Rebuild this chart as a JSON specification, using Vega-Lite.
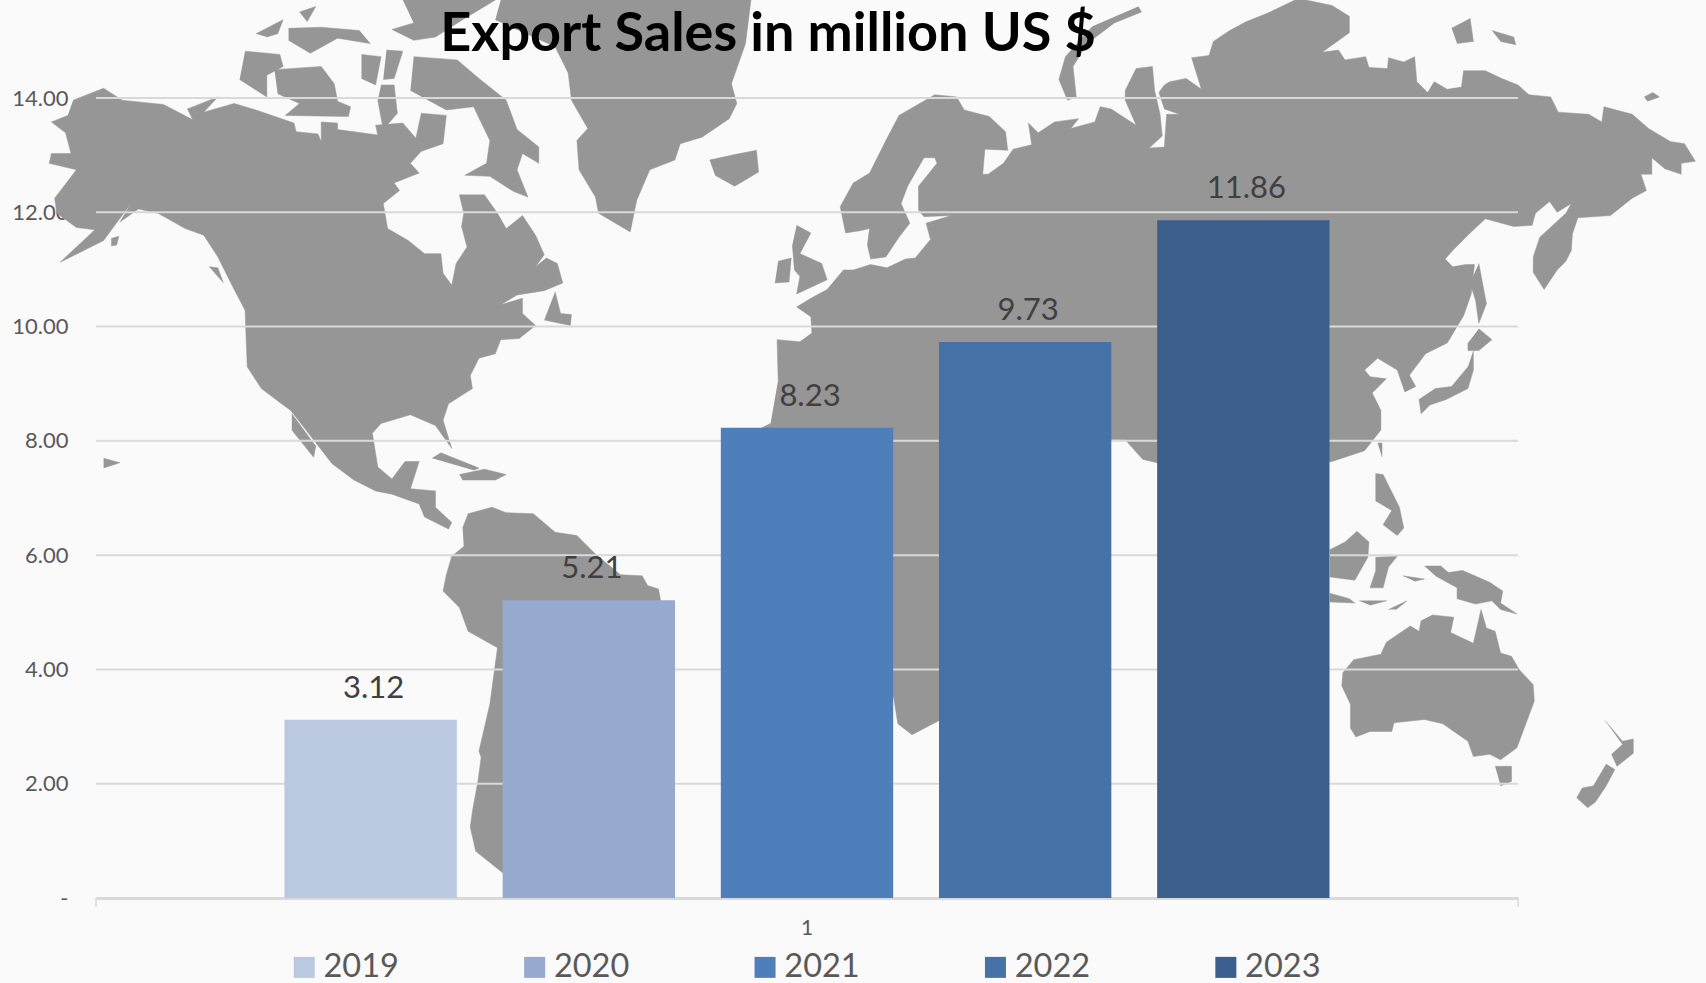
{"$schema":"https://vega.github.io/schema/vega-lite/v6.json","width":1422,"height":800,"autosize":{"type":"none"},"padding":{"left":96,"top":98,"right":188,"bottom":85},"background":"#fafafa","title":{"text":"Export Sales in million US $","anchor":"middle","dx":-39,"offset":-63,"fontSize":54,"font":"Lato","fontWeight":"bold","color":"#000000"},"config":{"view":{"stroke":null},"font":"Lato"},
"datasets":{"sales":[{"group":"1","year":"2019","sales":3.12},{"group":"1","year":"2020","sales":5.21},{"group":"1","year":"2021","sales":8.23},{"group":"1","year":"2022","sales":9.73},{"group":"1","year":"2023","sales":11.86}],
"grid":[{"v":2},{"v":4},{"v":6},{"v":8},{"v":10},{"v":12},{"v":14}],
"ends":[{"east":88,"south":825,"south2":833},{"east":1395,"south":825,"south2":833}],
"map":[
{"p":"na","east":67,"south":92},{"p":"na","east":95,"south":81},{"p":"na","east":112,"south":92},{"p":"na","east":150,"south":96},{"p":"na","east":177,"south":110},{"p":"na","east":172,"south":100},{"p":"na","east":200,"south":89},{"p":"na","east":187,"south":103},{"p":"na","east":215,"south":95},{"p":"na","east":235,"south":101},{"p":"na","east":270,"south":113},{"p":"na","east":272,"south":121},{"p":"na","east":292,"south":123},{"p":"na","east":295,"south":130},{"p":"na","east":295,"south":112},{"p":"na","east":310,"south":113},{"p":"na","east":310,"south":119},{"p":"na","east":347,"south":124},{"p":"na","east":345,"south":115},{"p":"na","east":370,"south":113},{"p":"na","east":382,"south":127},{"p":"na","east":387,"south":104},{"p":"na","east":410,"south":106},{"p":"na","east":407,"south":132},{"p":"na","east":387,"south":139},{"p":"na","east":377,"south":150},{"p":"na","east":385,"south":159},{"p":"na","east":362,"south":168},{"p":"na","east":367,"south":175},{"p":"na","east":352,"south":187},{"p":"na","east":356,"south":210},{"p":"na","east":375,"south":221},{"p":"na","east":390,"south":233},{"p":"na","east":405,"south":233},{"p":"na","east":407,"south":251},{"p":"na","east":415,"south":262},{"p":"na","east":419,"south":242},{"p":"na","east":429,"south":227},{"p":"na","east":424,"south":208},{"p":"na","east":426,"south":196},{"p":"na","east":422,"south":179},{"p":"na","east":445,"south":179},{"p":"na","east":457,"south":196},{"p":"na","east":465,"south":210},{"p":"na","east":480,"south":198},{"p":"na","east":492,"south":216},{"p":"na","east":500,"south":234},{"p":"na","east":492,"south":245},{"p":"na","east":502,"south":237},{"p":"na","east":512,"south":242},{"p":"na","east":517,"south":260},{"p":"na","east":500,"south":267},{"p":"na","east":475,"south":271},{"p":"na","east":460,"south":280},{"p":"na","east":480,"south":274},{"p":"na","east":480,"south":288},{"p":"na","east":492,"south":299},{"p":"na","east":477,"south":311},{"p":"na","east":460,"south":312},{"p":"na","east":455,"south":325},{"p":"na","east":440,"south":329},{"p":"na","east":432,"south":345},{"p":"na","east":434,"south":357},{"p":"na","east":412,"south":371},{"p":"na","east":407,"south":386},{"p":"na","east":415,"south":412},{"p":"na","east":400,"south":391},{"p":"na","east":377,"south":381},{"p":"na","east":350,"south":389},{"p":"na","east":342,"south":398},{"p":"na","east":347,"south":429},{"p":"na","east":360,"south":440},{"p":"na","east":372,"south":424},{"p":"na","east":385,"south":424},{"p":"na","east":377,"south":449},{"p":"na","east":400,"south":451},{"p":"na","east":400,"south":466},{"p":"na","east":415,"south":480},{"p":"na","east":412,"south":486},{"p":"na","east":390,"south":475},{"p":"na","east":385,"south":463},{"p":"na","east":360,"south":454},{"p":"na","east":345,"south":451},{"p":"na","east":325,"south":441},{"p":"na","east":305,"south":426},{"p":"na","east":267,"south":377},{"p":"na","east":260,"south":372},{"p":"na","east":240,"south":357},{"p":"na","east":227,"south":337},{"p":"na","east":225,"south":285},{"p":"na","east":215,"south":266},{"p":"na","east":200,"south":236},{"p":"na","east":187,"south":216},{"p":"na","east":170,"south":210},{"p":"na","east":145,"south":196},{"p":"na","east":127,"south":192},{"p":"na","east":110,"south":204},{"p":"na","east":120,"south":187},{"p":"na","east":95,"south":221},{"p":"na","east":55,"south":241},{"p":"na","east":87,"south":211},{"p":"na","east":70,"south":209},{"p":"na","east":52,"south":196},{"p":"na","east":50,"south":182},{"p":"na","east":70,"south":156},{"p":"na","east":45,"south":150},{"p":"na","east":47,"south":141},{"p":"na","east":65,"south":141},{"p":"na","east":60,"south":122},{"p":"na","east":47,"south":112},{"p":"na","east":62,"south":106},
{"p":"baffin","east":380,"south":52},{"p":"baffin","east":420,"south":55},{"p":"baffin","east":440,"south":72},{"p":"baffin","east":465,"south":92},{"p":"baffin","east":475,"south":119},{"p":"baffin","east":495,"south":135},{"p":"baffin","east":495,"south":150},{"p":"baffin","east":480,"south":141},{"p":"baffin","east":475,"south":156},{"p":"baffin","east":485,"south":181},{"p":"baffin","east":472,"south":176},{"p":"baffin","east":450,"south":162},{"p":"baffin","east":427,"south":161},{"p":"baffin","east":447,"south":150},{"p":"baffin","east":450,"south":129},{"p":"baffin","east":435,"south":98},{"p":"baffin","east":410,"south":101},{"p":"baffin","east":377,"south":83},
{"p":"victoria","east":252,"south":64},{"p":"victoria","east":295,"south":61},{"p":"victoria","east":307,"south":77},{"p":"victoria","east":310,"south":93},{"p":"victoria","east":322,"south":98},{"p":"victoria","east":320,"south":107},{"p":"victoria","east":262,"south":106},{"p":"victoria","east":275,"south":95},{"p":"victoria","east":255,"south":86},
{"p":"banks","east":225,"south":47},{"p":"banks","east":257,"south":50},{"p":"banks","east":260,"south":61},{"p":"banks","east":245,"south":69},{"p":"banks","east":245,"south":89},{"p":"banks","east":220,"south":73},
{"p":"i1","east":332,"south":50},{"p":"i1","east":350,"south":52},{"p":"i1","east":345,"south":78},{"p":"i1","east":332,"south":72},
{"p":"i2","east":355,"south":46},{"p":"i2","east":370,"south":47},{"p":"i2","east":362,"south":72},{"p":"i2","east":352,"south":73},
{"p":"i3","east":350,"south":78},{"p":"i3","east":362,"south":78},{"p":"i3","east":365,"south":104},{"p":"i3","east":352,"south":119},{"p":"i3","east":347,"south":92},
{"p":"i4","east":370,"south":0},{"p":"i4","east":455,"south":0},{"p":"i4","east":425,"south":18},{"p":"i4","east":400,"south":34},{"p":"i4","east":380,"south":37},{"p":"i4","east":360,"south":27},{"p":"i4","east":380,"south":21},
{"p":"i5","east":265,"south":26},{"p":"i5","east":295,"south":25},{"p":"i5","east":330,"south":28},{"p":"i5","east":340,"south":40},{"p":"i5","east":310,"south":35},{"p":"i5","east":285,"south":49},{"p":"i5","east":265,"south":37},
{"p":"i6","east":235,"south":31},{"p":"i6","east":260,"south":18},{"p":"i6","east":255,"south":31},{"p":"i6","east":245,"south":34},
{"p":"i7","east":275,"south":11},{"p":"i7","east":290,"south":6},{"p":"i7","east":282,"south":20},
{"p":"newf","east":510,"south":268},{"p":"newf","east":515,"south":288},{"p":"newf","east":525,"south":289},{"p":"newf","east":524,"south":299},{"p":"newf","east":500,"south":294},
{"p":"vanc","east":192,"south":245},{"p":"vanc","east":200,"south":246},{"p":"vanc","east":205,"south":260},
{"p":"baja","east":268,"south":380},{"p":"baja","east":290,"south":410},{"p":"baja","east":288,"south":420},{"p":"baja","east":268,"south":395},
{"p":"cuba","east":397,"south":421},{"p":"cuba","east":405,"south":416},{"p":"cuba","east":440,"south":430},{"p":"cuba","east":435,"south":432},
{"p":"hisp","east":422,"south":436},{"p":"hisp","east":445,"south":431},{"p":"hisp","east":465,"south":436},{"p":"hisp","east":455,"south":441},{"p":"hisp","east":425,"south":441},
{"p":"hawaii","east":95,"south":421},{"p":"hawaii","east":110,"south":425},{"p":"hawaii","east":95,"south":430},
{"p":"kodiak","east":102,"south":219},{"p":"kodiak","east":109,"south":217},{"p":"kodiak","east":107,"south":225},{"p":"kodiak","east":102,"south":226},
{"p":"green","east":460,"south":0},{"p":"green","east":690,"south":0},{"p":"green","east":685,"south":40},{"p":"green","east":672,"south":77},{"p":"green","east":677,"south":95},{"p":"green","east":670,"south":109},{"p":"green","east":645,"south":126},{"p":"green","east":625,"south":132},{"p":"green","east":620,"south":147},{"p":"green","east":597,"south":156},{"p":"green","east":585,"south":184},{"p":"green","east":579,"south":213},{"p":"green","east":550,"south":196},{"p":"green","east":547,"south":181},{"p":"green","east":532,"south":156},{"p":"green","east":530,"south":129},{"p":"green","east":540,"south":118},{"p":"green","east":525,"south":92},{"p":"green","east":522,"south":67},{"p":"green","east":510,"south":43},{"p":"green","east":455,"south":18},
{"p":"iceland","east":652,"south":147},{"p":"iceland","east":675,"south":142},{"p":"iceland","east":695,"south":138},{"p":"iceland","east":697,"south":158},{"p":"iceland","east":675,"south":171},{"p":"iceland","east":657,"south":161},
{"p":"eur","east":715,"south":349},{"p":"eur","east":714,"south":312},{"p":"eur","east":735,"south":314},{"p":"eur","east":746,"south":306},{"p":"eur","east":745,"south":291},{"p":"eur","east":732,"south":282},{"p":"eur","east":745,"south":274},{"p":"eur","east":760,"south":266},{"p":"eur","east":775,"south":248},{"p":"eur","east":784,"south":248},{"p":"eur","east":800,"south":243},{"p":"eur","east":815,"south":246},{"p":"eur","east":832,"south":238},{"p":"eur","east":841,"south":237},{"p":"eur","east":855,"south":220},{"p":"eur","east":851,"south":205},{"p":"eur","east":874,"south":198},{"p":"eur","east":849,"south":199},{"p":"eur","east":844,"south":193},{"p":"eur","east":844,"south":171},{"p":"eur","east":861,"south":150},{"p":"eur","east":859,"south":145},{"p":"eur","east":849,"south":145},{"p":"eur","east":834,"south":171},{"p":"eur","east":828,"south":187},{"p":"eur","east":836,"south":205},{"p":"eur","east":826,"south":218},{"p":"eur","east":814,"south":236},{"p":"eur","east":800,"south":238},{"p":"eur","east":797,"south":225},{"p":"eur","east":799,"south":210},{"p":"eur","east":790,"south":212},{"p":"eur","east":777,"south":214},{"p":"eur","east":772,"south":190},{"p":"eur","east":784,"south":168},{"p":"eur","east":799,"south":159},{"p":"eur","east":814,"south":129},{"p":"eur","east":826,"south":106},{"p":"eur","east":859,"south":87},{"p":"eur","east":879,"south":89},{"p":"eur","east":886,"south":101},{"p":"eur","east":909,"south":107},{"p":"eur","east":924,"south":121},{"p":"eur","east":926,"south":138},{"p":"eur","east":905,"south":137},{"p":"eur","east":903,"south":160},{"p":"eur","east":908,"south":160},{"p":"eur","east":922,"south":150},{"p":"eur","east":931,"south":137},{"p":"eur","east":948,"south":133},{"p":"eur","east":945,"south":113},{"p":"eur","east":954,"south":122},{"p":"eur","east":969,"south":112},{"p":"eur","east":991,"south":109},{"p":"eur","east":984,"south":118},{"p":"eur","east":1006,"south":112},{"p":"eur","east":1011,"south":98},{"p":"eur","east":1021,"south":100},{"p":"eur","east":1044,"south":115},{"p":"eur","east":1034,"south":92},{"p":"eur","east":1034,"south":83},{"p":"eur","east":1044,"south":63},{"p":"eur","east":1059,"south":61},{"p":"eur","east":1061,"south":83},{"p":"eur","east":1066,"south":105},{"p":"eur","east":1068,"south":125},{"p":"eur","east":1056,"south":136},{"p":"eur","east":1070,"south":135},{"p":"eur","east":1072,"south":105},{"p":"eur","east":1084,"south":105},{"p":"eur","east":1070,"south":100},{"p":"eur","east":1065,"south":85},{"p":"eur","east":1070,"south":78},{"p":"eur","east":1075,"south":75},{"p":"eur","east":1090,"south":72},{"p":"eur","east":1104,"south":82},{"p":"eur","east":1095,"south":53},{"p":"eur","east":1111,"south":51},{"p":"eur","east":1115,"south":38},{"p":"eur","east":1130,"south":28},{"p":"eur","east":1145,"south":20},{"p":"eur","east":1165,"south":12},{"p":"eur","east":1190,"south":0},{"p":"eur","east":1200,"south":0},{"p":"eur","east":1224,"south":5},{"p":"eur","east":1240,"south":15},{"p":"eur","east":1240,"south":30},{"p":"eur","east":1215,"south":48},{"p":"eur","east":1230,"south":46},{"p":"eur","east":1236,"south":55},{"p":"eur","east":1255,"south":52},{"p":"eur","east":1258,"south":62},{"p":"eur","east":1275,"south":63},{"p":"eur","east":1276,"south":53},{"p":"eur","east":1290,"south":57},{"p":"eur","east":1300,"south":52},{"p":"eur","east":1302,"south":75},{"p":"eur","east":1312,"south":85},{"p":"eur","east":1318,"south":75},{"p":"eur","east":1330,"south":82},{"p":"eur","east":1343,"south":80},{"p":"eur","east":1345,"south":65},{"p":"eur","east":1365,"south":65},{"p":"eur","east":1380,"south":72},{"p":"eur","east":1395,"south":78},{"p":"eur","east":1405,"south":87},{"p":"eur","east":1425,"south":89},{"p":"eur","east":1432,"south":103},{"p":"eur","east":1460,"south":105},{"p":"eur","east":1472,"south":112},{"p":"eur","east":1474,"south":98},{"p":"eur","east":1500,"south":105},{"p":"eur","east":1515,"south":118},{"p":"eur","east":1535,"south":130},{"p":"eur","east":1548,"south":132},{"p":"eur","east":1558,"south":148},{"p":"eur","east":1545,"south":150},{"p":"eur","east":1545,"south":160},{"p":"eur","east":1530,"south":155},{"p":"eur","east":1518,"south":145},{"p":"eur","east":1518,"south":160},{"p":"eur","east":1508,"south":160},{"p":"eur","east":1513,"south":175},{"p":"eur","east":1500,"south":182},{"p":"eur","east":1480,"south":198},{"p":"eur","east":1450,"south":200},{"p":"eur","east":1445,"south":215},{"p":"eur","east":1444,"south":230},{"p":"eur","east":1439,"south":240},{"p":"eur","east":1431,"south":248},{"p":"eur","east":1419,"south":266},{"p":"eur","east":1409,"south":250},{"p":"eur","east":1409,"south":236},{"p":"eur","east":1415,"south":218},{"p":"eur","east":1439,"south":196},{"p":"eur","east":1449,"south":178},{"p":"eur","east":1444,"south":187},{"p":"eur","east":1431,"south":195},{"p":"eur","east":1424,"south":185},{"p":"eur","east":1411,"south":196},{"p":"eur","east":1408,"south":207},{"p":"eur","east":1391,"south":208},{"p":"eur","east":1365,"south":201},{"p":"eur","east":1350,"south":215},{"p":"eur","east":1335,"south":230},{"p":"eur","east":1328,"south":238},{"p":"eur","east":1335,"south":245},{"p":"eur","east":1347,"south":243},{"p":"eur","east":1355,"south":243},{"p":"eur","east":1352,"south":270},{"p":"eur","east":1345,"south":290},{"p":"eur","east":1330,"south":315},{"p":"eur","east":1310,"south":325},{"p":"eur","east":1295,"south":345},{"p":"eur","east":1289,"south":334},{"p":"eur","east":1301,"south":355},{"p":"eur","east":1291,"south":360},{"p":"eur","east":1284,"south":340},{"p":"eur","east":1266,"south":329},{"p":"eur","east":1254,"south":340},{"p":"eur","east":1259,"south":346},{"p":"eur","east":1274,"south":348},{"p":"eur","east":1261,"south":361},{"p":"eur","east":1269,"south":377},{"p":"eur","east":1269,"south":395},{"p":"eur","east":1254,"south":414},{"p":"eur","east":1224,"south":424},{"p":"eur","east":1180,"south":430},{"p":"eur","east":1063,"south":425},{"p":"eur","east":1050,"south":422},{"p":"eur","east":1034,"south":404},{"p":"eur","east":1021,"south":404},{"p":"eur","east":1000,"south":420},{"p":"eur","east":950,"south":600},{"p":"eur","east":880,"south":655},{"p":"eur","east":863,"south":662},{"p":"eur","east":838,"south":675},{"p":"eur","east":825,"south":665},{"p":"eur","east":821,"south":640},{"p":"eur","east":760,"south":600},{"p":"eur","east":720,"south":560},{"p":"eur","east":680,"south":470},{"p":"eur","east":700,"south":393},{"p":"eur","east":708,"south":389},
{"p":"sa","east":425,"south":485},{"p":"sa","east":430,"south":472},{"p":"sa","east":452,"south":466},{"p":"sa","east":465,"south":471},{"p":"sa","east":490,"south":472},{"p":"sa","east":510,"south":489},{"p":"sa","east":530,"south":492},{"p":"sa","east":547,"south":509},{"p":"sa","east":570,"south":528},{"p":"sa","east":590,"south":529},{"p":"sa","east":595,"south":538},{"p":"sa","east":605,"south":541},{"p":"sa","east":607,"south":552},{"p":"sa","east":600,"south":600},{"p":"sa","east":540,"south":640},{"p":"sa","east":490,"south":700},{"p":"sa","east":462,"south":802},{"p":"sa","east":437,"south":782},{"p":"sa","east":432,"south":760},{"p":"sa","east":434,"south":745},{"p":"sa","east":439,"south":718},{"p":"sa","east":442,"south":696},{"p":"sa","east":440,"south":690},{"p":"sa","east":450,"south":647},{"p":"sa","east":457,"south":595},{"p":"sa","east":430,"south":580},{"p":"sa","east":422,"south":558},{"p":"sa","east":407,"south":543},{"p":"sa","east":410,"south":528},{"p":"sa","east":415,"south":511},{"p":"sa","east":426,"south":502},
{"p":"borneo","east":1222,"south":505},{"p":"borneo","east":1236,"south":498},{"p":"borneo","east":1247,"south":488},{"p":"borneo","east":1258,"south":498},{"p":"borneo","east":1257,"south":512},{"p":"borneo","east":1245,"south":533},{"p":"borneo","east":1222,"south":530},
{"p":"java","east":1222,"south":545},{"p":"java","east":1240,"south":550},{"p":"java","east":1245,"south":554},{"p":"java","east":1222,"south":553},
{"p":"sula","east":1264,"south":512},{"p":"sula","east":1284,"south":511},{"p":"sula","east":1276,"south":521},{"p":"sula","east":1271,"south":540},{"p":"sula","east":1259,"south":540},{"p":"sula","east":1264,"south":525},
{"p":"guinea","east":1309,"south":520},{"p":"guinea","east":1324,"south":520},{"p":"guinea","east":1331,"south":526},{"p":"guinea","east":1344,"south":524},{"p":"guinea","east":1369,"south":535},{"p":"guinea","east":1381,"south":543},{"p":"guinea","east":1379,"south":554},{"p":"guinea","east":1394,"south":564},{"p":"guinea","east":1379,"south":560},{"p":"guinea","east":1371,"south":552},{"p":"guinea","east":1356,"south":555},{"p":"guinea","east":1339,"south":550},{"p":"guinea","east":1339,"south":540},{"p":"guinea","east":1319,"south":529},
{"p":"t1","east":1289,"south":529},{"p":"t1","east":1309,"south":532},{"p":"t1","east":1300,"south":534},
{"p":"t2","east":1276,"south":560},{"p":"t2","east":1293,"south":552},{"p":"t2","east":1283,"south":560},
{"p":"t3","east":1249,"south":552},{"p":"t3","east":1274,"south":552},{"p":"t3","east":1259,"south":556},
{"p":"phil","east":1264,"south":435},{"p":"phil","east":1271,"south":436},{"p":"phil","east":1286,"south":466},{"p":"phil","east":1290,"south":485},{"p":"phil","east":1284,"south":492},{"p":"phil","east":1271,"south":482},{"p":"phil","east":1279,"south":469},{"p":"phil","east":1264,"south":460},
{"p":"taiwan","east":1266,"south":407},{"p":"taiwan","east":1270,"south":407},{"p":"taiwan","east":1270,"south":420},
{"p":"aus","east":1316,"south":565},{"p":"aus","east":1336,"south":567},{"p":"aus","east":1333,"south":581},{"p":"aus","east":1354,"south":591},{"p":"aus","east":1361,"south":560},{"p":"aus","east":1366,"south":577},{"p":"aus","east":1374,"south":580},{"p":"aus","east":1379,"south":600},{"p":"aus","east":1389,"south":603},{"p":"aus","east":1396,"south":615},{"p":"aus","east":1409,"south":629},{"p":"aus","east":1410,"south":644},{"p":"aus","east":1394,"south":687},{"p":"aus","east":1379,"south":698},{"p":"aus","east":1369,"south":693},{"p":"aus","east":1354,"south":695},{"p":"aus","east":1349,"south":681},{"p":"aus","east":1336,"south":672},{"p":"aus","east":1326,"south":665},{"p":"aus","east":1309,"south":661},{"p":"aus","east":1281,"south":664},{"p":"aus","east":1279,"south":672},{"p":"aus","east":1259,"south":672},{"p":"aus","east":1246,"south":677},{"p":"aus","east":1241,"south":669},{"p":"aus","east":1241,"south":647},{"p":"aus","east":1233,"south":630},{"p":"aus","east":1234,"south":618},{"p":"aus","east":1244,"south":606},{"p":"aus","east":1269,"south":601},{"p":"aus","east":1274,"south":590},{"p":"aus","east":1296,"south":575},{"p":"aus","east":1304,"south":580},{"p":"aus","east":1306,"south":570},
{"p":"tas","east":1374,"south":704},{"p":"tas","east":1389,"south":704},{"p":"tas","east":1389,"south":718},{"p":"tas","east":1379,"south":722},
{"p":"nzn","east":1475,"south":662},{"p":"nzn","east":1491,"south":681},{"p":"nzn","east":1501,"south":679},{"p":"nzn","east":1501,"south":692},{"p":"nzn","east":1486,"south":704},{"p":"nzn","east":1481,"south":693},{"p":"nzn","east":1491,"south":684},
{"p":"nzs","east":1476,"south":702},{"p":"nzs","east":1484,"south":707},{"p":"nzs","east":1476,"south":722},{"p":"nzs","east":1466,"south":737},{"p":"nzs","east":1459,"south":742},{"p":"nzs","east":1449,"south":733},{"p":"nzs","east":1454,"south":724},{"p":"nzs","east":1464,"south":722},
{"p":"honshu","east":1354,"south":322},{"p":"honshu","east":1354,"south":340},{"p":"honshu","east":1349,"south":357},{"p":"honshu","east":1329,"south":367},{"p":"honshu","east":1314,"south":372},{"p":"honshu","east":1306,"south":380},{"p":"honshu","east":1304,"south":367},{"p":"honshu","east":1319,"south":357},{"p":"honshu","east":1334,"south":355},{"p":"honshu","east":1349,"south":337},
{"p":"hokk","east":1359,"south":302},{"p":"hokk","east":1371,"south":312},{"p":"hokk","east":1359,"south":322},{"p":"hokk","east":1349,"south":322},{"p":"hokk","east":1349,"south":315},
{"p":"sakh","east":1359,"south":242},{"p":"sakh","east":1366,"south":279},{"p":"sakh","east":1359,"south":297},{"p":"sakh","east":1356,"south":276},{"p":"sakh","east":1351,"south":260},
{"p":"gb","east":732,"south":207},{"p":"gb","east":745,"south":214},{"p":"gb","east":735,"south":233},{"p":"gb","east":755,"south":242},{"p":"gb","east":760,"south":257},{"p":"gb","east":732,"south":270},{"p":"gb","east":735,"south":254},{"p":"gb","east":730,"south":248},{"p":"gb","east":728,"south":225},
{"p":"ire","east":715,"south":240},{"p":"ire","east":727,"south":237},{"p":"ire","east":725,"south":259},{"p":"ire","east":712,"south":260},
{"p":"nz","east":1046,"south":6},{"p":"nz","east":1049,"south":11},{"p":"nz","east":1024,"south":21},{"p":"nz","east":999,"south":40},{"p":"nz","east":986,"south":61},{"p":"nz","east":989,"south":89},{"p":"nz","east":981,"south":92},{"p":"nz","east":973,"south":73},{"p":"nz","east":979,"south":52},{"p":"nz","east":1004,"south":24},
{"p":"sib1","east":1334,"south":26},{"p":"sib1","east":1351,"south":17},{"p":"sib1","east":1354,"south":38},{"p":"sib1","east":1339,"south":40},
{"p":"sib2","east":1371,"south":28},{"p":"sib2","east":1391,"south":34},{"p":"sib2","east":1393,"south":41},{"p":"sib2","east":1379,"south":38},
{"p":"wrangel","east":1511,"south":89},{"p":"wrangel","east":1519,"south":85},{"p":"wrangel","east":1525,"south":89},{"p":"wrangel","east":1514,"south":93}
]},
"layer":[
{"layer":[
{"data":{"name":"map"},"mark":{"type":"line","fill":"#969696","stroke":"#969696","strokeWidth":0.5,"clip":false},"encoding":{"x":{"field":"east","type":"quantitative","scale":{"domain":[88,1395],"nice":false,"zero":false},"axis":null},"y":{"field":"south","type":"quantitative","scale":{"domain":[825,90],"nice":false,"zero":false},"axis":null},"detail":{"field":"p","type":"nominal"},"order":{"value":null}}},
{"data":{"name":"ends"},"mark":{"type":"rule","color":"#d9d9d9","strokeWidth":1.5},"encoding":{"x":{"field":"east","type":"quantitative","axis":null},"y":{"field":"south","type":"quantitative","axis":null},"y2":{"field":"south2"}}}
]},
{"layer":[
{"data":{"name":"grid"},"mark":{"type":"rule","color":"#d9d9d9","strokeWidth":2},"encoding":{"y":{"field":"v","type":"quantitative"}}},
{"data":{"name":"sales"},"mark":{"type":"bar"},"encoding":{"x":{"field":"group","type":"nominal","scale":{"paddingInner":0,"paddingOuter":0.1518},"axis":{"title":null,"labelAngle":0,"ticks":false,"domainColor":"#d9d9d9","domainWidth":3,"labelFont":"Lato","labelFontSize":21,"labelColor":"#595959","labelPadding":19}},"xOffset":{"field":"year","type":"nominal","scale":{"paddingInner":0.21,"paddingOuter":0.105}},"y":{"field":"sales","type":"quantitative","scale":{"domain":[0,14],"nice":false},"axis":{"title":null,"values":[0,2,4,6,8,10,12,14],"grid":false,"domain":false,"ticks":false,"labelFont":"Lato","labelFontSize":22,"labelColor":"#595959","labelPadding":28,"labelExpr":"datum.value === 0 ? '-\u00a0\u00a0\u00a0\u00a0' : format(datum.value, '.2f')"}},"color":{"field":"year","type":"nominal","scale":{"domain":["2019","2020","2021","2022","2023"],"range":["#bac8e0","#96a9cf","#4f7fba","#4672a8","#3b5e8d"]},"legend":{"orient":"none","direction":"horizontal","columns":5,"legendX":192,"legendY":853,"title":null,"symbolType":"square","symbolSize":441,"symbolStrokeWidth":0,"labelFont":"Lato","labelFontSize":32.5,"labelColor":"#595959","labelOffset":3,"columnPadding":119.4}}}},
{"data":{"name":"sales"},"mark":{"type":"text","font":"Lato","fontSize":31,"color":"#404040","baseline":"alphabetic","dy":-22,"dx":3},"encoding":{"x":{"field":"group","type":"nominal"},"xOffset":{"field":"year","type":"nominal"},"y":{"field":"sales","type":"quantitative"},"text":{"field":"sales","type":"quantitative","format":".2f"}}}
]}
],
"resolve":{"scale":{"x":"independent","y":"independent"}}}
